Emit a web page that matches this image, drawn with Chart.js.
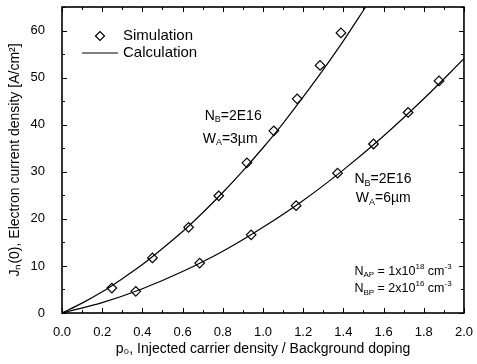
<!DOCTYPE html>
<html>
<head>
<meta charset="utf-8">
<script src="https://cdn.jsdelivr.net/npm/chart.js@4.4.1/dist/chart.umd.min.js"></script>
<style>
  html, body { margin: 0; padding: 0; background: #fff; }
  #wrap { width: 477px; height: 364px; }
</style>
</head>
<body>
<div id="wrap"><canvas id="chart"></canvas></div>
<script>
// ---- data ----
const sim3umX = [0.248, 0.45, 0.63, 0.78, 0.92, 1.054, 1.17, 1.284, 1.388];
const sim3umY = [5.3, 11.7, 18.2, 24.9, 31.9, 38.7, 45.5, 52.6, 59.5];
const sim6umX = [0.367, 0.685, 0.941, 1.165, 1.371, 1.55, 1.722, 1.876];
const sim6umY = [4.6, 10.6, 16.6, 22.8, 29.7, 35.9, 42.6, 49.3];

const calc3umX = [0, 0.1, 0.2, 0.3, 0.4, 0.5, 0.6, 0.7, 0.8, 0.9, 1.0, 1.1, 1.2, 1.3, 1.4, 1.5, 1.55];
const calc3umY = [0, 2.1, 4.5, 7.3, 10.3, 13.7, 17.3, 21.3, 25.6, 30.2, 35.1, 40.3, 45.9, 51.7, 57.8, 64.3, 67.6];
const calc6umX = [0, 0.2, 0.4, 0.6, 0.8, 1.0, 1.2, 1.4, 1.6, 1.8, 2.0];
const calc6umY = [0, 2.2, 5.15, 8.8, 13.1, 18.2, 23.9, 30.4, 37.6, 45.5, 54.0];

const xTicks = [0, 0.2, 0.4, 0.6, 0.8, 1.0, 1.2, 1.4, 1.6, 1.8, 2.0];
const yTicks = [0, 10, 20, 30, 40, 50, 60];

const FONT = "'Liberation Sans', Arial, sans-serif";
Chart.defaults.font.family = FONT;
Chart.defaults.color = '#000';

const toPoints = (xs, ys) => xs.map((v, i) => ({ x: v, y: ys[i] }));

// draw text with sub/superscripts, parts: [text, 'sub'|'sup'|undefined]
function drawRich(ctx, parts, x, y, size) {
  let cx = x;
  parts.forEach(([t, kind]) => {
    const s = kind ? Math.round(size * 0.62) : size;
    const dy = kind === 'sub' ? size * 0.3 : kind === 'sup' ? -size * 0.38 : 0;
    ctx.font = `${s}px ${FONT}`;
    ctx.fillText(t, cx, y + dy);
    cx += ctx.measureText(t).width;
  });
}

const framePlugin = {
  id: 'frame',
  afterDatasetsDraw(chart) {
    const { ctx, chartArea: a, scales: { x, y } } = chart;
    ctx.save();
    ctx.strokeStyle = '#000';
    ctx.fillStyle = '#000';

    // inward ticks, all four sides
    ctx.lineWidth = 1;
    ctx.beginPath();
    const xAll = [];
    xTicks.forEach((v, i) => {
      xAll.push([v, 5]);
      if (i < xTicks.length - 1) xAll.push([(v + xTicks[i + 1]) / 2, 3]);
    });
    xAll.forEach(([v, len]) => {
      const px = Math.round(x.getPixelForValue(v)) + 0.5;
      ctx.moveTo(px, a.bottom); ctx.lineTo(px, a.bottom - len);
      ctx.moveTo(px, a.top); ctx.lineTo(px, a.top + len);
    });
    const yAll = [];
    yTicks.forEach((v) => { yAll.push([v, 5]); yAll.push([v + 5, 3]); });
    yAll.forEach(([v, len]) => {
      if (v > y.max) return;
      const py = Math.round(y.getPixelForValue(v)) + 0.5;
      ctx.moveTo(a.left, py); ctx.lineTo(a.left + len, py);
      ctx.moveTo(a.right, py); ctx.lineTo(a.right - len, py);
    });
    ctx.stroke();

    // box
    ctx.lineWidth = 1.6;
    ctx.strokeRect(a.left, a.top, a.right - a.left, a.bottom - a.top);

    // legend
    ctx.lineWidth = 1.2;
    const lx = 100, ly = 36, r = 4.5;
    ctx.beginPath();
    ctx.moveTo(lx - r, ly); ctx.lineTo(lx, ly - r); ctx.lineTo(lx + r, ly); ctx.lineTo(lx, ly + r); ctx.closePath();
    ctx.stroke();
    ctx.beginPath();
    ctx.moveTo(82, 53); ctx.lineTo(118, 53);
    ctx.stroke();
    ctx.textBaseline = 'middle';
    ctx.textAlign = 'left';
    ctx.font = `15px ${FONT}`;
    ctx.fillText('Simulation', 123, 36);
    ctx.fillText('Calculation', 123, 53);

    // annotations
    const S = 14;
    drawRich(ctx, [['N'], ['B', 'sub'], ['=2E16']], x.getPixelForValue(0.71), y.getPixelForValue(41.9), S);
    drawRich(ctx, [['W'], ['A', 'sub'], ['=3µm']], x.getPixelForValue(0.70), y.getPixelForValue(37.0), S);
    drawRich(ctx, [['N'], ['B', 'sub'], ['=2E16']], x.getPixelForValue(1.455), y.getPixelForValue(28.5), S);
    drawRich(ctx, [['W'], ['A', 'sub'], ['=6µm']], x.getPixelForValue(1.462), y.getPixelForValue(24.3), S);
    drawRich(ctx, [['N'], ['AP', 'sub'], [' = 1x10'], ['18', 'sup'], [' cm'], ['-3', 'sup']], x.getPixelForValue(1.455), y.getPixelForValue(8.9), 12.5);
    drawRich(ctx, [['N'], ['BP', 'sub'], [' = 2x10'], ['16', 'sup'], [' cm'], ['-3', 'sup']], x.getPixelForValue(1.455), y.getPixelForValue(5.1), 12.5);
    ctx.restore();
  }
};

const simStyle = {
  showLine: false,
  pointStyle: 'rectRot',
  pointRadius: 4.8,
  pointBorderWidth: 1.2,
  pointBorderColor: '#000',
  pointBackgroundColor: 'rgba(0,0,0,0)',
  borderColor: '#000'
};
const calcStyle = {
  showLine: true,
  pointRadius: 0,
  borderWidth: 1.2,
  borderColor: '#000',
  cubicInterpolationMode: 'monotone'
};

new Chart(document.getElementById('chart'), {
  type: 'scatter',
  data: {
    datasets: [
      Object.assign({ label: 'Calculation', data: toPoints(calc3umX, calc3umY) }, calcStyle),
      Object.assign({ label: 'Calculation', data: toPoints(calc6umX, calc6umY) }, calcStyle),
      Object.assign({ label: 'Simulation', data: toPoints(sim3umX, sim3umY) }, simStyle),
      Object.assign({ label: 'Simulation', data: toPoints(sim6umX, sim6umY) }, simStyle)
    ]
  },
  options: {
    responsive: true,
    maintainAspectRatio: false,
    animation: false,
    layout: { padding: { top: 0, right: 12, bottom: 0, left: 0 } },
    plugins: { legend: { display: false }, tooltip: { enabled: false } },
    scales: {
      x: {
        type: 'linear',
        min: 0,
        max: 2,
        afterBuildTicks: (s) => { s.ticks = xTicks.map(v => ({ value: v })); },
        afterFit: (s) => { s.height = 51; },
        grid: { display: false },
        border: { display: false },
        ticks: {
          autoSkip: false, maxRotation: 0, padding: 4,
          font: { size: 13 }, color: '#000',
          callback: (v) => Number(v).toFixed(1)
        },
        title: {
          display: true,
          text: 'p₀, Injected carrier density / Background doping',
          font: { size: 14 }, color: '#000',
          padding: { top: 0, bottom: 6 }
        }
      },
      y: {
        type: 'linear',
        min: 0,
        max: 65,
        afterBuildTicks: (s) => { s.ticks = yTicks.map(v => ({ value: v })); },
        afterFit: (s) => { s.width = 62; s.paddingTop = 7; s.paddingBottom = 0; },
        grid: { display: false },
        border: { display: false },
        ticks: {
          autoSkip: false, padding: 9,
          font: { size: 13 }, color: '#000'
        },
        title: {
          display: true,
          text: 'Jₙ(0), Electron current density [A/cm²]',
          font: { size: 14 }, color: '#000',
          padding: { top: 7, bottom: 0 }
        }
      }
    }
  },
  plugins: [framePlugin]
});
</script>
</body>
</html>
